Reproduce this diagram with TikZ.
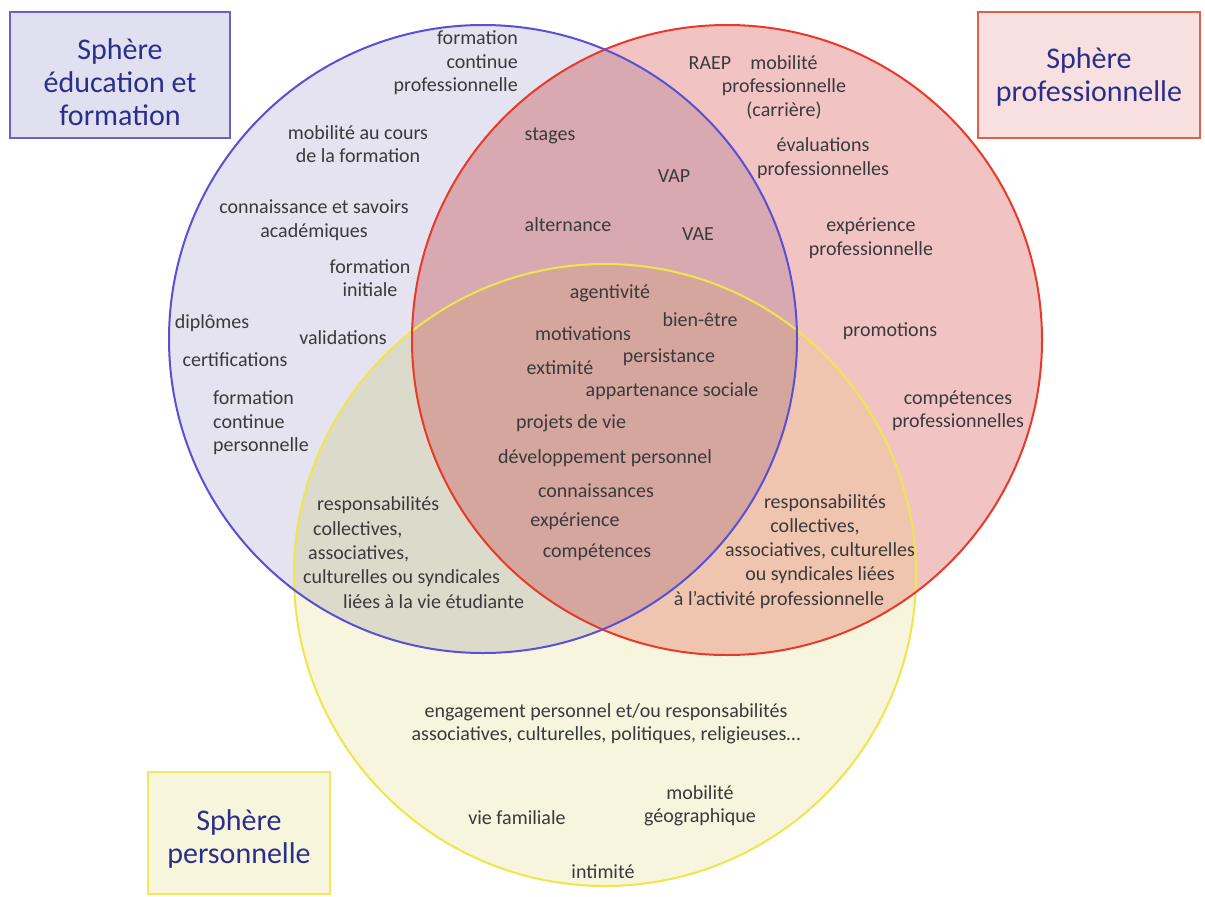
\documentclass[tikz,border=0pt]{standalone}
\usepackage{fontspec}
\setmainfont{Carlito}
\definecolor{fb}{HTML}{E4E3EF}
\definecolor{fr}{HTML}{F2C3C3}
\definecolor{fy}{HTML}{F7F5DD}
\definecolor{fbr}{HTML}{D8A9B0}
\definecolor{fby}{HTML}{DCDBCB}
\definecolor{fry}{HTML}{F0C5B0}
\definecolor{fbry}{HTML}{D5A69D}
\definecolor{lb}{HTML}{5A50D4}
\definecolor{lr}{HTML}{E8392A}
\definecolor{ly}{HTML}{EEE64A}
\definecolor{txt}{HTML}{3A3A3A}
\definecolor{navy}{HTML}{2B2F8C}
\definecolor{tbf}{HTML}{E0E0F0}
\definecolor{tbd}{HTML}{6464CC}
\definecolor{trf}{HTML}{F9E0E0}
\definecolor{trd}{HTML}{E06050}
\definecolor{tyf}{HTML}{F7F5DC}
\definecolor{tyd}{HTML}{F0E860}
\tikzset{
  lbl/.style={text=txt, font=\fontsize{20}{23.5}\selectfont, align=center, inner sep=0pt},
  ttlbox/.style={line width=2pt, inner sep=0pt},
  ttl/.style={text=navy, font=\fontsize{30}{33}\selectfont, align=center, inner sep=0pt},
  ring/.style={line width=2pt}
}
\begin{document}
\begin{tikzpicture}[x=1pt,y=-1pt]
\useasboundingbox (0,0) rectangle (1205,897);
\fill[white] (0,0) rectangle (1205,897);
\coordinate (cb) at (483,339);
\coordinate (cr) at (727,340);
\coordinate (cy) at (605,575);
\def\rb{314pt}\def\rr{315pt}\def\ry{311pt}
% base fills
\fill[fb] (cb) circle[radius=\rb];
\fill[fr] (cr) circle[radius=\rr];
\fill[fy] (cy) circle[radius=\ry];
% overlaps
\begin{scope}\clip (cb) circle[radius=\rb]; \fill[fbr] (cr) circle[radius=\rr]; \end{scope}
\begin{scope}\clip (cb) circle[radius=\rb]; \fill[fby] (cy) circle[radius=\ry]; \end{scope}
\begin{scope}\clip (cr) circle[radius=\rr]; \fill[fry] (cy) circle[radius=\ry]; \end{scope}
\begin{scope}\clip (cb) circle[radius=\rb]; \clip (cr) circle[radius=\rr]; \fill[fbry] (cy) circle[radius=\ry]; \end{scope}
% outlines
\draw[ring, ly] (cy) circle[radius=\ry];
\draw[ring, lr] (cr) circle[radius=\rr];
\draw[ring, lb] (cb) circle[radius=\rb];
% title boxes
\node[ttlbox, draw=tbd, fill=tbf, minimum width=220pt, minimum height=126pt] (tb) at (120,75) {};
\node[ttl] (tbt) at (120,82) {Sphère\\éducation et\\formation};
\node[ttlbox, draw=trd, fill=trf, minimum width=222pt, minimum height=126pt] (tr) at (1089,75) {};
\node[ttl] (trt) at (1089,77) {Sphère\\professionnelle};
\node[ttlbox, draw=tyd, fill=tyf, minimum width=182pt, minimum height=122pt] (ty) at (239,833) {};
\node[ttl] (tyt) at (239,839) {Sphère\\personnelle};
% blue only
\node[lbl, align=right, anchor=east] (b1) at (518,63) {formation\\continue\\professionnelle};
\node[lbl] (b2) at (358,144) {mobilité au cours\\de la formation};
\node[lbl] (b3) at (314,220) {connaissance et savoirs\\académiques};
\node[lbl] (b4) at (370,278) {formation\\initiale};
\node[lbl] (b5) at (212,323) {diplômes};
\node[lbl] (b6) at (343,338) {validations};
\node[lbl] (b7) at (235,360) {certifications};
\node[lbl, align=left, anchor=west] (b8) at (213,423) {formation\\continue\\personnelle};
% blue & red
\node[lbl] (br1) at (550,136) {stages};
\node[lbl] (br2) at (674,176) {VAP};
\node[lbl] (br3) at (568,225) {alternance};
\node[lbl] (br4) at (698,234) {VAE};
% red only
\node[lbl] (r1) at (710,63) {RAEP};
\node[lbl] (r2) at (784,87) {mobilité\\professionnelle\\(carrière)};
\node[lbl] (r3) at (823,158) {évaluations\\professionnelles};
\node[lbl] (r4) at (871,238) {expérience\\professionnelle};
\node[lbl] (r5) at (890,331) {promotions};
\node[lbl] (r6) at (958,411) {compétences\\professionnelles};
% triple
\node[lbl] (t1) at (610,293) {agentivité};
\node[lbl] (t2) at (700,320) {bien-être};
\node[lbl] (t3) at (583,334) {motivations};
\node[lbl] (t4) at (669,357) {persistance};
\node[lbl] (t5) at (560,368) {extimité};
\node[lbl] (t6) at (672,391) {appartenance sociale};
\node[lbl] (t7) at (571,423) {projets de vie};
\node[lbl] (t8) at (605,458) {développement personnel};
\node[lbl] (t9) at (596,491) {connaissances};
\node[lbl] (t10) at (575,521) {expérience};
\node[lbl] (t11) at (597,552) {compétences};
% blue & yellow
\node[lbl, anchor=west] (by1) at (317,505) {responsabilités};
\node[lbl, anchor=west] (by2) at (313,530) {collectives,};
\node[lbl, anchor=west] (by3) at (308,554) {associatives,};
\node[lbl, anchor=west] (by4) at (303,578) {culturelles ou syndicales};
\node[lbl, anchor=west] (by5) at (343,602) {liées à la vie étudiante};
% red & yellow
\node[lbl] (ry1) at (825,503) {responsabilités};
\node[lbl] (ry2) at (815,527) {collectives,};
\node[lbl] (ry3) at (820,551) {associatives, culturelles};
\node[lbl] (ry4) at (820,575) {ou syndicales liées};
\node[lbl] (ry5) at (779,600) {à l’activité professionnelle};
% yellow only
\node[lbl] (y1) at (606,724) {engagement personnel et/ou responsabilités\\associatives, culturelles, politiques, religieuses…};
\node[lbl] (y2) at (517,818) {vie familiale};
\node[lbl] (y3) at (700,806) {mobilité\\géographique};
\node[lbl] (y4) at (603,872) {intimité};
\end{tikzpicture}
\end{document}
